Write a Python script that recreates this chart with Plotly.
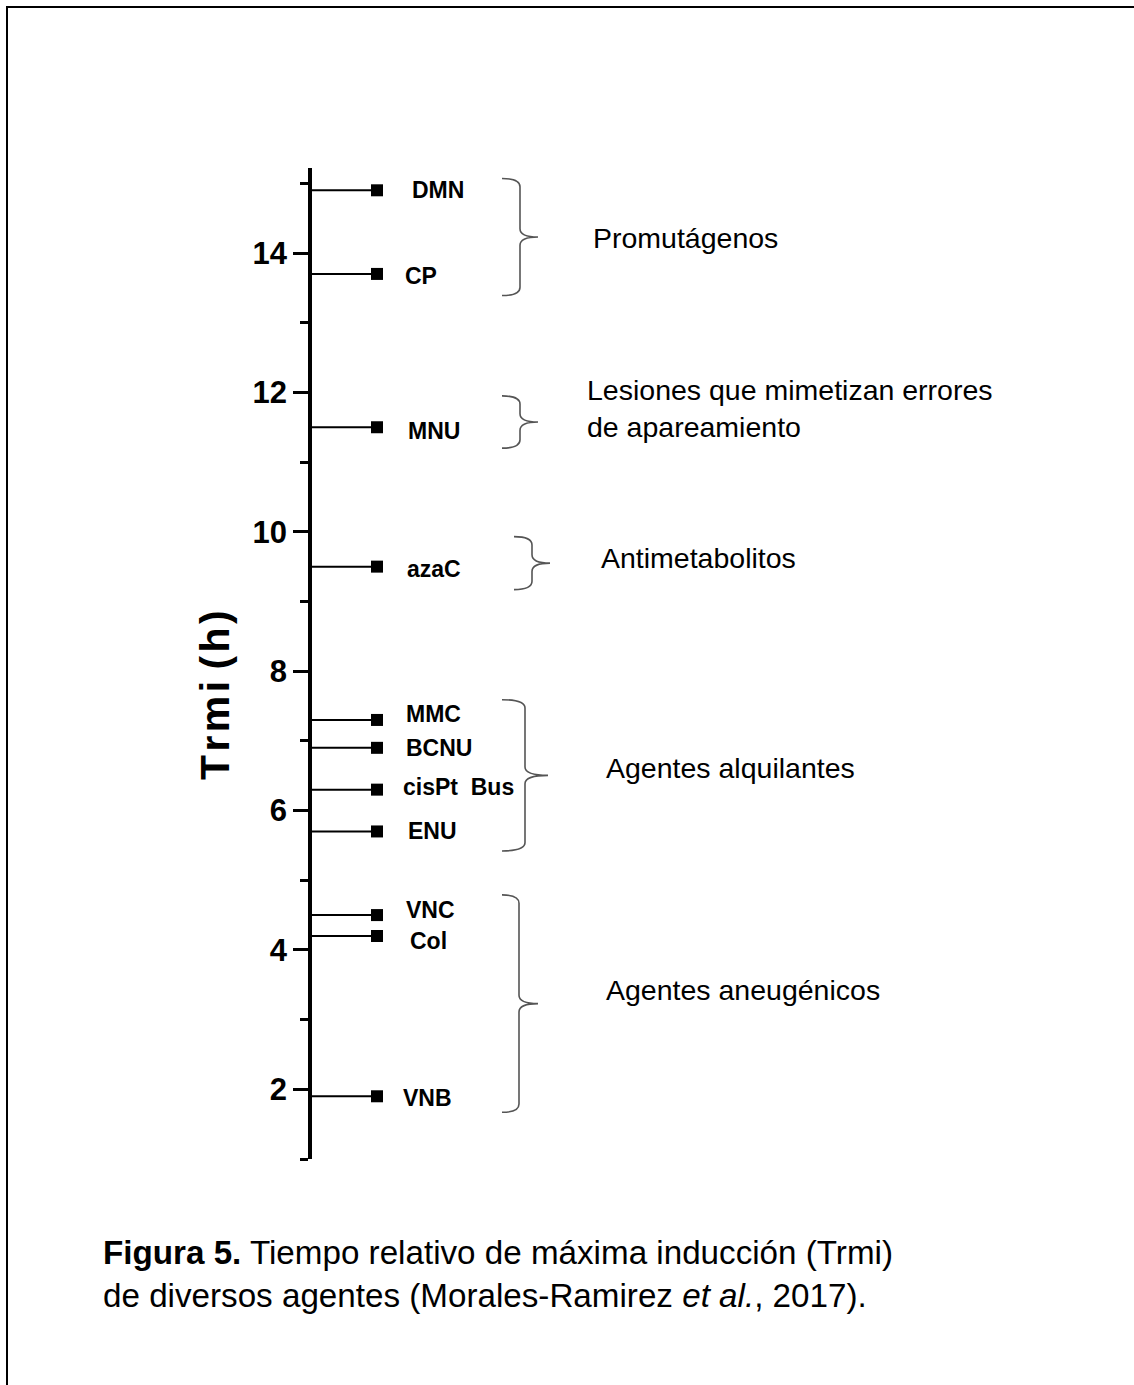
import plotly.graph_objects as go

# ---------------- data ----------------
agents = ["DMN", "CP", "MNU", "azaC", "MMC", "BCNU", "cisPt  Bus", "ENU", "VNC", "Col", "VNB"]
trmi_h = [14.9, 13.7, 11.5, 9.5, 7.3, 6.9, 6.3, 5.7, 4.5, 4.2, 1.9]

group_names = ["Promutágenos",
               "Lesiones que mimetizan errores<br>de apareamiento",
               "Antimetabolitos",
               "Agentes alquilantes",
               "Agentes aneugénicos"]
group_top = [15.07, 11.95, 9.93, 7.59, 4.79]
group_bottom = [13.39, 11.20, 9.17, 5.42, 1.67]

y_ticks = [2, 4, 6, 8, 10, 12, 14]
y_minor = [1, 3, 5, 7, 9, 11, 13, 15]

# ---------------- layout geometry ----------------
W, H = 1134, 1385
ML, MT, MB = 312, 168, 226
PW = W - ML
PH = H - MT - MB
Y0, Y1 = 1.0, 15.22

def pxx(p):  # pixel x -> paper
    return (p - ML) / PW

def pxy(p):  # pixel y -> paper
    return (H - MB - p) / PH

MARK_X = 65          # x position (plot units = px right of the axis) of the markers
LABEL_X = 92
# small per-label text nudges (dx px, dy px; positive dy = up)
label_nudge = {"DMN": (6, 0), "CP": (-1, -2), "MNU": (2, -4), "azaC": (1, -2), "MMC": (0, 6),
               "BCNU": (0, 0), "cisPt  Bus": (-3, 3), "ENU": (2, 0), "VNC": (0, 5),
               "Col": (4, -5), "VNB": (-3, -2)}

ARIAL = "Liberation Sans, Arial, sans-serif"

fig = go.Figure()
fig.add_trace(go.Scatter(
    x=[MARK_X] * len(trmi_h), y=trmi_h, mode="markers",
    marker=dict(symbol="square", size=12, color="black"),
    error_x=dict(type="data", symmetric=False, array=[0] * len(trmi_h),
                 arrayminus=[MARK_X] * len(trmi_h), width=0, thickness=2, color="black"),
    showlegend=False, hoverinfo="skip", cliponaxis=False,
))

annotations = []
for name, v in zip(agents, trmi_h):
    dx, dy = label_nudge.get(name, (0, 0))
    annotations.append(dict(x=LABEL_X, y=v, xref="x", yref="y", text=f"<b>{name}</b>",
                            showarrow=False, xanchor="left", yanchor="middle",
                            xshift=dx, yshift=dy,
                            font=dict(family=ARIAL, size=23, color="black")))

# braces and group labels
brace_x = [(190, 208, 226), (190, 208, 226), (202, 220, 238), (190, 213, 236), (190, 207, 226)]
label_x = [279, 273, 287, 292, 292]
label_y = [14.22, 11.77, 9.63, 6.61, 3.43]
shapes = []
for (x0, xv, xt), top, bot, name, lx, ly in zip(brace_x, group_top, group_bottom,
                                                group_names, label_x, label_y):
    mid = (top + bot) / 2
    r = 0.12
    path = (f"M {x0},{top} Q {xv},{top} {xv},{top - r} "
            f"L {xv},{mid + r} Q {xv},{mid} {xt},{mid} "
            f"Q {xv},{mid} {xv},{mid - r} "
            f"L {xv},{bot + r} Q {xv},{bot} {x0},{bot}")
    shapes.append(dict(type="path", path=path, xref="x", yref="y",
                       line=dict(color="#555555", width=1.6)))
    annotations.append(dict(x=lx, y=ly, xref="x", yref="y", text=name, showarrow=False,
                            xanchor="left", yanchor="middle", align="left",
                            font=dict(family=ARIAL, size=28.5, color="black")))

# axis title (letter-spaced with hair spaces)
hs = "\u200a"
title_txt = hs.join(list("Trmi")) + " " + hs.join(list("(h)"))
annotations.append(dict(x=pxx(215), y=pxy(695), xref="paper", yref="paper",
                        text=f"<b>{title_txt}</b>", textangle=-90, showarrow=False,
                        xanchor="center", yanchor="middle",
                        font=dict(family=ARIAL, size=41, color="black")))

# caption
annotations.append(dict(x=pxx(101), y=pxy(1274), xref="paper", yref="paper",
                        text="<b>Figura 5.</b> Tiempo relativo de máxima inducción (Trmi)<br>"
                             "de diversos agentes (Morales-Ramirez <i>et al.</i>, 2017).",
                        showarrow=False, xanchor="left", yanchor="middle", align="left",
                        font=dict(family=ARIAL, size=33.2, color="black")))

# frame
shapes.append(dict(type="rect", xref="paper", yref="paper",
                   x0=pxx(7), x1=pxx(1140), y0=pxy(1395), y1=pxy(7),
                   line=dict(color="black", width=2), layer="below"))

fig.update_layout(
    width=W, height=H,
    margin=dict(l=ML, r=0, t=MT, b=MB),
    paper_bgcolor="white", plot_bgcolor="white",
    showlegend=False,
    xaxis=dict(visible=False, range=[0, PW], fixedrange=True),
    yaxis=dict(range=[Y0, Y1], tickvals=y_ticks, ticks="outside", ticklen=15, tickwidth=3,
               tickcolor="black", showline=True, linewidth=3.5, linecolor="black",
               showgrid=False, zeroline=False,
               tickfont=dict(family=ARIAL, size=31, color="black", weight="bold"),
               minor=dict(tickvals=y_minor, ticks="outside", ticklen=8, tickwidth=3,
                          tickcolor="black", showgrid=False)),
    annotations=annotations, shapes=shapes,
)

# remove the default 8px page margin so the figure sits at the window's top-left corner
fig.write_html("out.html", config={"displayModeBar": False},
               post_script="document.body.style.margin='0';")
